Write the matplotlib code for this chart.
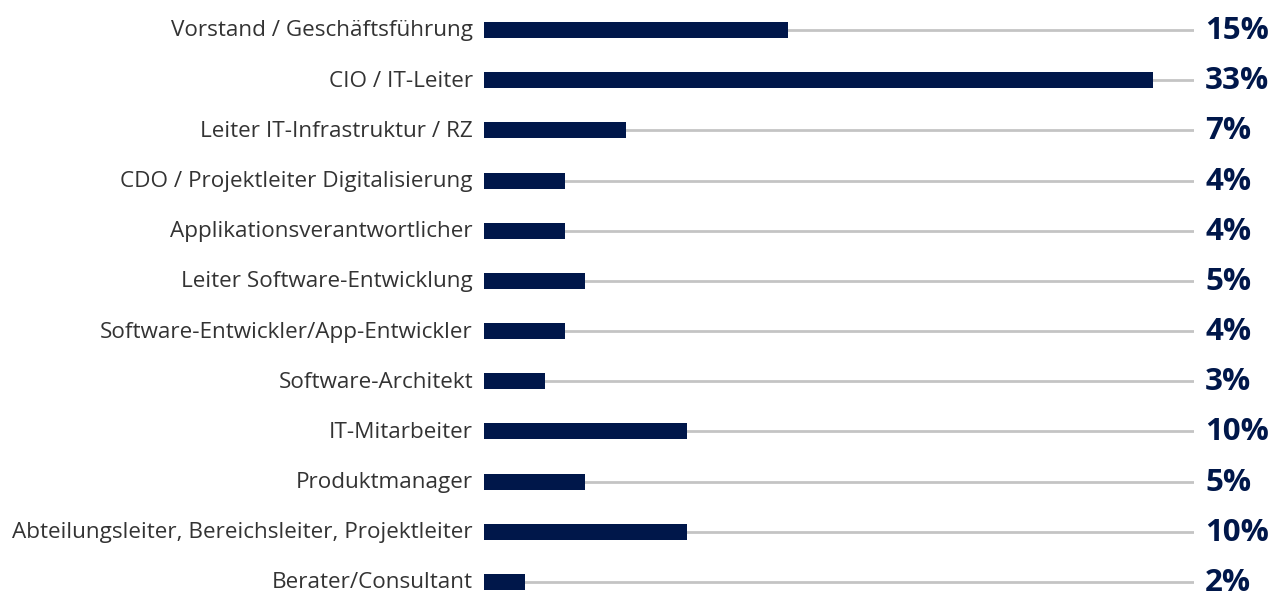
import matplotlib
matplotlib.use("Agg")
import matplotlib.pyplot as plt

categories = [
    "Vorstand / Geschäftsführung",
    "CIO / IT-Leiter",
    "Leiter IT-Infrastruktur / RZ",
    "CDO / Projektleiter Digitalisierung",
    "Applikationsverantwortlicher",
    "Leiter Software-Entwicklung",
    "Software-Entwickler/App-Entwickler",
    "Software-Architekt",
    "IT-Mitarbeiter",
    "Produktmanager",
    "Abteilungsleiter, Bereichsleiter, Projektleiter",
    "Berater/Consultant",
]
values = [15, 33, 7, 4, 4, 5, 4, 3, 10, 5, 10, 2]

BAR = "#00174a"
GRID = "#c4c4c4"
TXT = "#333333"

fig = plt.figure(figsize=(12.8, 5.99), dpi=100)
W, H = 1280, 599
ax = fig.add_axes([484 / W, 0, 710 / W, 1 - 4.9 / H])
xmax = 35
ymax = 11 + (H - 582) / 50.18
ax.set_xlim(0, xmax)
ax.set_ylim(ymax, -0.5)

ys = list(range(len(categories)))
ax.hlines(ys, 0, xmax, color=GRID, linewidth=2, zorder=1)
ax.barh(ys, values, height=0.32, color=BAR, zorder=2)

for y, cat, v in zip(ys, categories, values):
    ax.annotate(cat, xy=(0, y), xycoords=("axes fraction", "data"),
                xytext=(-11, -1), textcoords="offset pixels",
                ha="right", va="center", fontsize=16.2, color=TXT,
                family="Open Sans")
    ax.annotate(f"{v}%", xy=(1, y), xycoords=("axes fraction", "data"),
                xytext=(11, -1), textcoords="offset pixels",
                ha="left", va="center", fontsize=22.5, color=BAR,
                fontweight="bold", family="Open Sans")

ax.axis("off")
fig.savefig("out.png", dpi=100)
